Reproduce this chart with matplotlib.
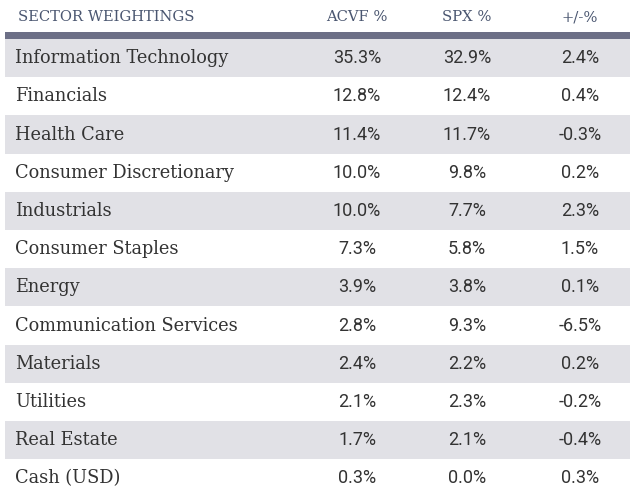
import matplotlib.pyplot as plt
from matplotlib.patches import Rectangle

# table data
sectors = ["Information Technology", "Financials", "Health Care",
           "Consumer Discretionary", "Industrials", "Consumer Staples",
           "Energy", "Communication Services", "Materials", "Utilities",
           "Real Estate", "Cash (USD)"]
acvf = [35.3, 12.8, 11.4, 10.0, 10.0, 7.3, 3.9, 2.8, 2.4, 2.1, 1.7, 0.3]
spx = [32.9, 12.4, 11.7, 9.8, 7.7, 5.8, 3.8, 9.3, 2.2, 2.3, 2.1, 0.0]
diff = [2.4, 0.4, -0.3, 0.2, 2.3, 1.5, 0.1, -6.5, 0.2, -0.2, -0.4, 0.3]
headers = ["SECTOR WEIGHTINGS", "ACVF %", "SPX %", "+/-%"]

W, H = 640, 498
fig = plt.figure(figsize=(W / 100, H / 100), dpi=100)
ax = fig.add_axes([0, 0, 1, 1])
ax.set_xlim(0, W)
ax.set_ylim(H, 0)
ax.axis('off')

x0, x1 = 5, 630
col_x = [15, 357, 467, 580]
head_col = '#4a5670'
shade = '#e1e1e6'
text_col = '#333333'
font = 'DejaVu Serif'

# header
ax.text(col_x[0] + 3, 17, headers[0], ha='left', va='center', fontsize=10.6,
        color=head_col, family=font)
for x, h in zip(col_x[1:], headers[1:]):
    ax.text(x, 17, h, ha='center', va='center', fontsize=10.6,
            color=head_col, family=font)
ax.add_patch(Rectangle((x0, 32), x1 - x0, 7, color='#6c6f86', lw=0))

row_top = 39
row_h = 38.2
for i, name in enumerate(sectors):
    y = row_top + i * row_h
    if i % 2 == 0:
        ax.add_patch(Rectangle((x0, y), x1 - x0, row_h, color=shade, lw=0))
    yc = y + row_h / 2
    ax.text(col_x[0], yc, name, ha='left', va='center', fontsize=12.8,
            color=text_col, family=font)
    for x, v in zip(col_x[1:], [acvf[i], spx[i], diff[i]]):
        ax.text(x, yc, f"{v:.1f}%", ha='center', va='center', fontsize=13,
                color=text_col, family='Roboto')

fig.savefig('out.png', dpi=100)
